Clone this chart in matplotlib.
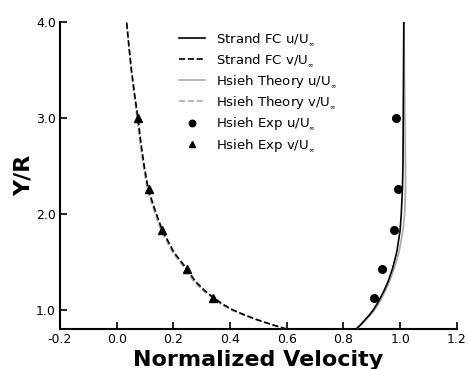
import numpy as np
import matplotlib
matplotlib.use('Agg')
import matplotlib.pyplot as plt

y_v = [0.80, 0.85, 0.90, 0.95, 1.00, 1.06, 1.13, 1.20, 1.30, 1.43, 1.60, 1.83, 2.00,
       2.25, 2.50, 2.75, 3.00, 3.25, 3.50, 3.75, 4.00]
v_fc = [0.600, 0.545, 0.494, 0.450, 0.410, 0.374, 0.341, 0.311, 0.277, 0.247, 0.202,
        0.161, 0.140, 0.112, 0.097, 0.085, 0.075, 0.063, 0.052, 0.043, 0.035]
v_th = [0.600, 0.542, 0.490, 0.445, 0.405, 0.368, 0.336, 0.305, 0.271, 0.241, 0.197,
        0.156, 0.136, 0.108, 0.094, 0.082, 0.072, 0.061, 0.051, 0.043, 0.035]

y_u = [0.80, 0.85, 0.90, 0.95, 1.00, 1.06, 1.13, 1.20, 1.30, 1.43, 1.60, 1.83, 2.00,
       2.25, 2.50, 3.00, 3.50, 4.00]
u_fc = [0.844, 0.862, 0.877, 0.892, 0.905, 0.918, 0.931, 0.943, 0.958, 0.973, 0.988,
        1.000, 1.004, 1.008, 1.010, 1.011, 1.012, 1.013]
u_th = [0.846, 0.864, 0.880, 0.896, 0.910, 0.923, 0.936, 0.948, 0.963, 0.979, 0.996,
        1.010, 1.016, 1.019, 1.019, 1.017, 1.015, 1.014]

y_exp = [1.128, 1.427, 1.830, 2.257, 3.000]
u_exp = [0.908, 0.937, 0.979, 0.991, 0.987]
v_exp = [0.341, 0.249, 0.159, 0.113, 0.075]

fig = plt.figure(figsize=(4.69, 3.69), dpi=100)
ax = fig.add_axes([0.128, 0.108, 0.846, 0.832])

inf = r'$_{{}_\infty}$'
ax.plot(u_fc, y_u, 'k-', lw=1.2, zorder=4, label='Strand FC u/U' + inf)
ax.plot(v_fc, y_v, 'k--', lw=1.2, zorder=4, label='Strand FC v/U' + inf)
ax.plot(u_th, y_u, '-', color='#aaaaaa', lw=1.2, zorder=3, label='Hsieh Theory u/U' + inf)
ax.plot(v_th, y_v, '--', color='#aaaaaa', lw=1.2, zorder=3, label='Hsieh Theory v/U' + inf)
ax.plot(u_exp, y_exp, 'ko', ms=5.5, ls='none', zorder=5, label='Hsieh Exp u/U' + inf)
ax.plot(v_exp, y_exp, 'k^', ms=5.5, ls='none', zorder=5, label='Hsieh Exp v/U' + inf)

ax.set_xlim(-0.2, 1.2)
ax.set_ylim(0.8, 4.0)
ax.set_xticks(np.arange(-0.2, 1.21, 0.2))
ax.set_xticklabels(['-0.2', '0.0', '0.2', '0.4', '0.6', '0.8', '1.0', '1.2'])
ax.set_yticks([1.0, 2.0, 3.0, 4.0])
ax.set_yticklabels(['1.0', '2.0', '3.0', '4.0'])
ax.tick_params(direction='in', length=5, width=1.2, labelsize=9, pad=3)
for s in ['top', 'right']:
    ax.spines[s].set_visible(False)
for s in ['left', 'bottom']:
    ax.spines[s].set_linewidth(1.5)

ax.set_xlabel('Normalized Velocity', fontsize=16, fontweight='bold', labelpad=3)
ax.set_ylabel('Y/R', fontsize=16, fontweight='bold', labelpad=2)

leg = ax.legend(loc='upper left', bbox_to_anchor=(0.27, 1.01), frameon=False, fontsize=9.5,
                handlelength=2.0, handletextpad=0.8, labelspacing=0.33, numpoints=1,
                markerscale=0.85)

fig.savefig('out.png', dpi=100)
